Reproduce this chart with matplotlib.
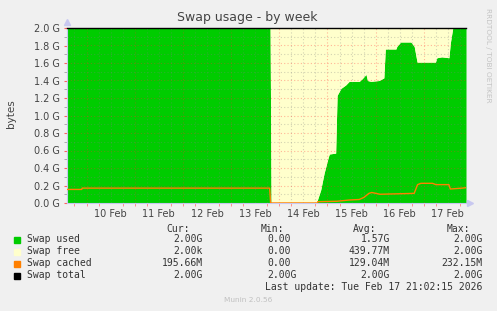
import numpy as np
import matplotlib
matplotlib.use("Agg")
import matplotlib.pyplot as plt
from matplotlib.ticker import MultipleLocator, FixedLocator, NullFormatter

# time axis: days since 9 Feb 00:00
x_start = 0.595
x_end = 8.875

used_days = [0.595, 4.81, 4.83, 5.77, 5.86, 5.93, 6.02, 6.04, 6.17, 6.20, 6.28, 6.38,
             6.45, 6.66, 6.72, 6.80, 6.83, 6.90, 7.07, 7.17, 7.20, 7.42, 7.44, 7.52,
             7.73, 7.80, 7.86, 8.24, 8.27, 8.37, 8.52, 8.55, 8.60, 8.875]
used_gb = [2.0, 2.0, 0.0, 0.0, 0.15, 0.34, 0.53, 0.56, 0.57, 1.23, 1.31, 1.35,
           1.39, 1.39, 1.42, 1.47, 1.40, 1.39, 1.40, 1.43, 1.76, 1.76, 1.79, 1.84,
           1.84, 1.79, 1.61, 1.61, 1.66, 1.67, 1.66, 1.83, 2.0, 2.0]

cached_days = [0.595, 0.90, 0.91, 4.80, 4.82, 5.79, 5.80, 6.20, 6.45, 6.66, 6.76,
               6.86, 6.92, 7.09, 7.80, 7.87, 7.94, 8.18, 8.25, 8.52, 8.55, 8.80, 8.875]
cached_gb = [0.155, 0.155, 0.17, 0.17, 0.0, 0.0, 0.015, 0.02, 0.034, 0.04, 0.065,
             0.11, 0.12, 0.10, 0.11, 0.21, 0.225, 0.225, 0.21, 0.21, 0.16, 0.17, 0.175]

total_gb = 2.0

day_labels = ["10 Feb", "11 Feb", "12 Feb", "13 Feb", "14 Feb", "15 Feb", "16 Feb", "17 Feb"]
y_ticks = [0.0, 0.2, 0.4, 0.6, 0.8, 1.0, 1.2, 1.4, 1.6, 1.8, 2.0]

legend_names = ["Swap used", "Swap free", "Swap cached", "Swap total"]
legend_colors = ["#00CC00", "#FFFFCC", "#FF8000", "#000000"]
cur_vals = ["2.00G", "2.00k", "195.66M", "2.00G"]
min_vals = ["0.00", "0.00", "0.00", "2.00G"]
avg_vals = ["1.57G", "439.77M", "129.04M", "2.00G"]
max_vals = ["2.00G", "2.00G", "232.15M", "2.00G"]

W, H = 497, 311
fig = plt.figure(figsize=(W / 100, H / 100), dpi=100, facecolor="#F0F0F0")


def fx(px):
    return px / W


def fy(py):
    return 1 - py / H


ax = fig.add_axes([fx(67), fy(203), fx(466) - fx(67), fy(28) - fy(203)])
ax.set_facecolor("#FFFFCC")

# stacked areas: used, then free on top up to total
xs = np.array(used_days)
us = np.array(used_gb)
ax.fill_between(xs, 0, us, color=legend_colors[0], lw=0, zorder=1)
ax.fill_between(xs, us, total_gb, color=legend_colors[1], lw=0, zorder=1)

# grid (drawn over the areas like rrdtool)
dot = (0, (1, 2))
for d in np.arange(0.75, 9.0, 0.25):
    if abs(d - round(d)) < 1e-6:
        ax.axvline(d, color="#FF3030", alpha=0.35, lw=0.8, ls=dot, zorder=2)
    else:
        ax.axvline(d, color="#808080", alpha=0.35, lw=0.8, ls=dot, zorder=2)
for v in np.arange(0.1, 2.0, 0.1):
    if round(v * 10) % 2 == 0:
        ax.axhline(v, color="#FF3030", alpha=0.35, lw=0.8, ls=dot, zorder=2)
    else:
        ax.axhline(v, color="#808080", alpha=0.35, lw=0.8, ls=dot, zorder=2)

ax.plot(cached_days, cached_gb, color=legend_colors[2], lw=1.0, zorder=3)
ax.plot([x_start, x_end], [total_gb, total_gb], color="black", lw=1.0, zorder=4, clip_on=False)

ax.set_xlim(x_start, x_end)
ax.set_ylim(0, 2.0)

ax.xaxis.set_major_locator(FixedLocator(np.arange(1.5, 9.0, 1.0)))
ax.set_xticklabels(day_labels)
ax.xaxis.set_minor_locator(MultipleLocator(0.25))
ax.tick_params(axis="x", which="major", length=0, pad=4, labelsize=7, labelcolor="#444444")
ax.tick_params(axis="x", which="minor", length=2, color="#FF8080")

ax.set_yticks(y_ticks)
ax.set_yticklabels([f"{v:.1f} G" for v in y_ticks])
ax.yaxis.set_minor_locator(MultipleLocator(0.1))
ax.yaxis.set_minor_formatter(NullFormatter())
ax.tick_params(axis="y", which="major", length=2, color="#FF6060", pad=3, labelsize=7, labelcolor="#444444")
ax.tick_params(axis="y", which="minor", length=2, color="#A0A0A0")

for s in ["top", "right"]:
    ax.spines[s].set_visible(False)
for s in ["left", "bottom"]:
    ax.spines[s].set_color("#C8C8F0")
    ax.spines[s].set_linewidth(0.8)

# axis arrows
ax.plot([x_start], [2.07], marker="^", ms=4, color="#C8C8F0", clip_on=False, zorder=5)
ax.plot([x_end + 0.08], [0], marker=">", ms=4, color="#C8C8F0", clip_on=False, zorder=5)

fig.text(fx(247), fy(17), "Swap usage - by week", ha="center", va="center",
         fontsize=9, color="#444444")
fig.text(fx(11), fy(114), "bytes", rotation=90, ha="center", va="center",
         fontsize=7.5, color="#444444")
fig.text(fx(488), fy(55), "RRDTOOL / TOBI OETIKER", rotation=270, ha="center", va="center",
         fontsize=5.3, color="#C4C4C4")

# legend table
mono = "DejaVu Sans Mono"
lfs = 7
cw = 0.602 * lfs * 100 / 72
tc = "#333333"
header_y = 228.5
for name, right in zip(["Cur:", "Min:", "Avg:", "Max:"], [190, 284, 376.7, 470]):
    fig.text(fx(right), fy(header_y), name, ha="right", va="center",
             family=mono, fontsize=lfs, color=tc)

col_right = [202.7, 296.7, 390, 482.7]
for i, name in enumerate(legend_names):
    yy = 239.5 + 12 * i
    fig.patches.append(plt.Rectangle((fx(14), fy(yy + 3)), fx(6), 6 / H,
                                     transform=fig.transFigure, color=legend_colors[i]))
    fig.text(fx(26.7), fy(yy), name, ha="left", va="center", family=mono, fontsize=lfs, color=tc)
    for col, vals in enumerate([cur_vals, min_vals, avg_vals, max_vals]):
        v = vals[i]
        r = col_right[col]
        if v[-1].isdigit():
            r -= cw
        fig.text(fx(r), fy(yy), v, ha="right", va="center", family=mono, fontsize=lfs, color=tc)

fig.text(fx(482.7), fy(287.5), "Last update: Tue Feb 17 21:02:15 2026", ha="right", va="center",
         family=mono, fontsize=lfs, color=tc)
fig.text(fx(248), fy(300), "Munin 2.0.56", ha="center", va="center", fontsize=5.3, color="#C0C0C0")

fig.savefig("out.png", dpi=100, facecolor=fig.get_facecolor())
